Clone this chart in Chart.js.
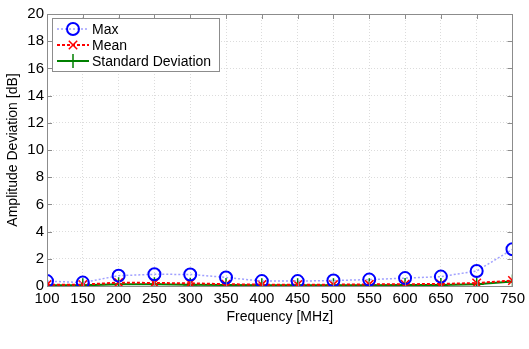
<!DOCTYPE html>
<html><head><meta charset="utf-8">
<script src="https://cdn.jsdelivr.net/npm/chart.js@4/dist/chart.umd.min.js"></script>
<style>html,body{margin:0;padding:0;background:#fff}#wrap{width:529px;height:349px}</style>
</head><body><div id="wrap"><canvas id="c" width="529" height="349"></canvas></div>
<script>
const frequencies = [100,150,200,250,300,350,400,450,500,550,600,650,700,750];
const maxValues  = [0.36,0.25,0.76,0.86,0.85,0.63,0.36,0.36,0.4,0.47,0.58,0.69,1.1,2.7];
const meanValues = [0.1,0.1,0.25,0.22,0.2,0.13,0.1,0.1,0.1,0.12,0.13,0.15,0.22,0.4];
const stdValues  = [0.05,0.05,0.12,0.12,0.1,0.08,0.06,0.05,0.05,0.06,0.07,0.08,0.12,0.33];
const yTicks = [0,2,4,6,8,10,12,14,16,18,20];
const seriesNames = ['Max','Mean','Standard Deviation'];

const pts = v => frequencies.map((f,i)=>({x:f,y:v[i]}));
const FONT = 'Liberation Sans, Arial, sans-serif';

const frameAndLegend = {
  id:'frameAndLegend',
  afterDraw(chart){
    const ctx = chart.ctx, a = chart.chartArea, xs = chart.scales.x, ys = chart.scales.y;
    ctx.save();
    ctx.strokeStyle = '#8c8c8c'; ctx.lineWidth = 1; ctx.setLineDash([]);
    ctx.strokeRect(Math.round(a.left)+0.5, Math.round(a.top)+0.5, Math.round(a.right-a.left), Math.round(a.bottom-a.top));
    const L = 5;
    ctx.beginPath();
    yTicks.forEach(t=>{ const y = Math.round(ys.getPixelForValue(t))+0.5;
      ctx.moveTo(a.left, y); ctx.lineTo(a.left+L, y);
      ctx.moveTo(a.right, y); ctx.lineTo(a.right-L, y); });
    frequencies.forEach(f=>{ const x = Math.round(xs.getPixelForValue(f))+0.5;
      ctx.moveTo(x, a.bottom); ctx.lineTo(x, a.bottom-L);
      ctx.moveTo(x, a.top); ctx.lineTo(x, a.top+L); });
    ctx.stroke();
    // legend
    const bx = a.left+5, by = a.top+4, bw = 167, bh = 53;
    ctx.fillStyle = '#fff'; ctx.fillRect(bx, by, bw, bh);
    ctx.strokeStyle = '#8c8c8c'; ctx.strokeRect(bx+0.5, by+0.5, bw, bh);
    const rows = [by+11, by+27, by+43];
    chart.data.datasets.forEach((ds,i)=>{
      const y = rows[i];
      ctx.strokeStyle = ds.borderColor; ctx.lineWidth = ds.borderWidth;
      ctx.setLineDash(ds.borderDash||[]);
      ctx.beginPath(); ctx.moveTo(bx+5,y); ctx.lineTo(bx+37,y); ctx.stroke();
      ctx.setLineDash([]);
      const cx = bx+21;
      ctx.strokeStyle = ds.pointBorderColor; ctx.lineWidth = ds.pointBorderWidth;
      ctx.beginPath();
      if (ds.pointStyle==='circle'){ ctx.arc(cx,y,ds.pointRadius,0,Math.PI*2); }
      else if (ds.pointStyle==='crossRot'){ const r=ds.pointRadius*0.7; ctx.moveTo(cx-r,y-r);ctx.lineTo(cx+r,y+r);ctx.moveTo(cx+r,y-r);ctx.lineTo(cx-r,y+r); }
      else { const r=ds.pointRadius; ctx.moveTo(cx-r,y);ctx.lineTo(cx+r,y);ctx.moveTo(cx,y-r);ctx.lineTo(cx,y+r); }
      ctx.stroke();
      ctx.fillStyle = '#000'; ctx.font = '14px '+FONT; ctx.textBaseline='middle'; ctx.textAlign='left';
      ctx.fillText(ds.label, bx+40, y+1);
    });
    ctx.restore();
  }
};

new Chart(document.getElementById('c'), {
  type:'line',
  data:{ datasets:[
    { label:seriesNames[0], data:pts(maxValues), borderColor:'rgba(150,150,255,0.9)', borderWidth:1.5, borderDash:[2,2],
      pointStyle:'circle', pointRadius:6, pointBorderColor:'#0000ff', pointBorderWidth:2, pointBackgroundColor:'rgba(0,0,0,0)' },
    { label:seriesNames[1], data:pts(meanValues), borderColor:'#ff0000', borderWidth:2, borderDash:[3,2],
      pointStyle:'crossRot', pointRadius:6, pointBorderColor:'#ff0000', pointBorderWidth:1.5, pointBackgroundColor:'#ff0000' },
    { label:seriesNames[2], data:pts(stdValues), borderColor:'#008000', borderWidth:2,
      pointStyle:'cross', pointRadius:7, pointBorderColor:'#008000', pointBorderWidth:1.5, pointBackgroundColor:'#008000' }
  ]},
  options:{
    responsive:false, animation:false, devicePixelRatio:1,
    layout:{ padding:{ top:14, right:14, left:0, bottom:0 } },
    plugins:{ legend:{display:false}, tooltip:{enabled:false} },
    scales:{
      x:{ type:'linear', min:100, max:750,
        afterBuildTicks(s){ s.ticks = frequencies.map(v=>({value:v})); },
        afterFit(s){ s.height = 63; },
        grid:{ color:'#dcdcdc', drawTicks:false, lineWidth:1 },
        border:{ display:false, dash:[1,2] },
        ticks:{ color:'#000', font:{family:FONT, size:15}, padding:4, maxRotation:0, autoSkip:false },
        title:{ display:true, text:'Frequency [MHz]', color:'#000', font:{family:FONT,size:14}, padding:{top:0,bottom:23} }
      },
      y:{ min:0, max:20,
        afterBuildTicks(s){ s.ticks = yTicks.map(v=>({value:v})); },
        afterFit(s){ s.width = 47; },
        grid:{ color:'#dcdcdc', drawTicks:false, lineWidth:1 },
        border:{ display:false, dash:[1,2] },
        ticks:{ color:'#000', font:{family:FONT, size:15}, padding:3 },
        title:{ display:true, text:'Amplitude Deviation [dB]', color:'#000', font:{family:FONT,size:14}, padding:{top:5,bottom:0} }
      }
    }
  },
  plugins:[frameAndLegend]
});
</script></body></html>
